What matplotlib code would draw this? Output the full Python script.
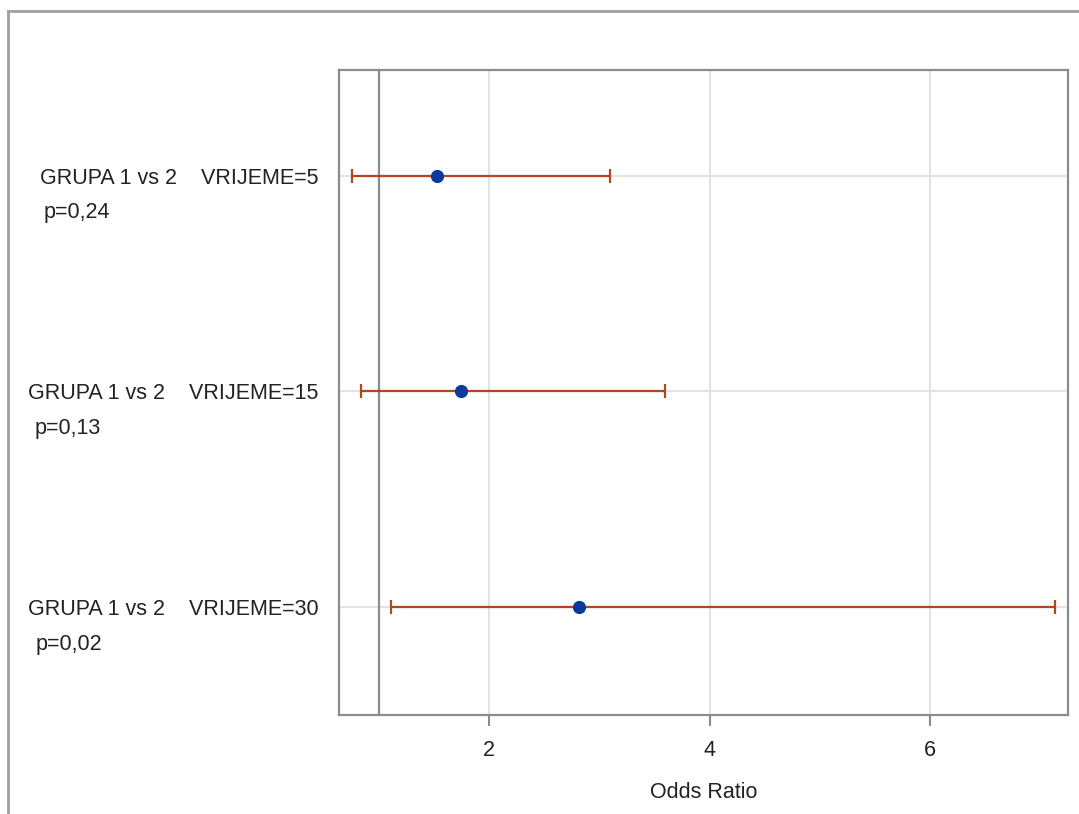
import matplotlib.pyplot as plt
import matplotlib.transforms as mtransforms
from matplotlib.lines import Line2D

# rows, top to bottom
labels = ["GRUPA 1 vs 2    VRIJEME=5", "GRUPA 1 vs 2    VRIJEME=15", "GRUPA 1 vs 2    VRIJEME=30"]
p_values = ["p=0,24", "p=0,13", "p=0,02"]
odds_ratio = [1.53, 1.75, 2.82]
ci_lower = [0.76, 0.84, 1.11]
ci_upper = [3.10, 3.60, 7.13]
xticks = [2, 4, 6]

plt.rcParams["font.family"] = ["Liberation Sans", "DejaVu Sans"]

fig = plt.figure(figsize=(10.79, 8.14), dpi=100)
W, H = 1079, 814
ax = fig.add_axes([339 / W, 1 - 715 / H, (1068 - 339) / W, (715 - 70) / H])

rows = list(range(len(labels)))

frame_col = "#8c8c8c"
grid_col = "#e3e3e3"
txt_col = "#222222"

ax.set_xlim(0.64, 7.25)
ax.set_ylim(len(labels) - 0.5, -0.49)

ax.set_xticks(xticks)
ax.set_xticklabels([str(t) for t in xticks], fontsize=15.5, color=txt_col)
ax.tick_params(axis="x", length=8, width=1.5, color=frame_col, pad=10)
ax.set_yticks(rows)
ax.set_yticklabels(labels, fontsize=15.5, color=txt_col)
ax.tick_params(axis="y", length=0, pad=15)

ax.grid(True, color=grid_col, linewidth=1.5)
ax.set_axisbelow(True)
for s in ax.spines.values():
    s.set_color(frame_col)
    s.set_linewidth(1.6)

# reference line at OR = 1
ax.axvline(1, color=frame_col, linewidth=1.6, zorder=1)

ax.errorbar(odds_ratio, rows,
            xerr=[[o - l for o, l in zip(odds_ratio, ci_lower)],
                  [u - o for o, u in zip(odds_ratio, ci_upper)]],
            fmt="none", ecolor="#b3461d", elinewidth=1.6, capsize=5, capthick=1.6, zorder=3)
ax.plot(odds_ratio, rows, "o", color="#0b3a9c", markersize=8.5, zorder=4)

ax.set_xlabel("Odds Ratio", fontsize=15.5, color=txt_col, labelpad=15)

# p-values under the row labels
trans = mtransforms.blended_transform_factory(fig.transFigure, ax.transData)
p_x = [44, 35, 36]
for r, p, px in zip(rows, p_values, p_x):
    ax.annotate(p, xy=(px / W, r), xycoords=trans, xytext=(0, -37),
                textcoords="offset pixels", ha="left", va="center",
                fontsize=15.5, color=txt_col, annotation_clip=False)

# outer frame (cropped on the right and bottom)
fig.add_artist(Line2D([8 / W, 8 / W], [0, 1 - 11 / H], transform=fig.transFigure,
                      color="#a0a0a0", linewidth=2))
fig.add_artist(Line2D([8 / W, 1], [1 - 11 / H, 1 - 11 / H], transform=fig.transFigure,
                      color="#a0a0a0", linewidth=2))

fig.savefig("out.png", dpi=100)
